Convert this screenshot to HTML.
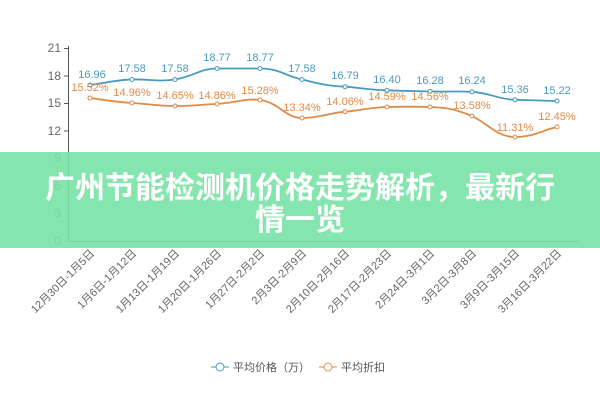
<!DOCTYPE html><html><head><meta charset="utf-8"><style>body{margin:0;background:#fff;width:600px;height:400px;overflow:hidden;position:relative;font-family:"Liberation Sans","Noto Sans CJK SC",sans-serif}
.ban{position:absolute;left:0;top:152px;width:600px;height:96px;background:rgba(120,226,165,0.9);color:#fff;font-weight:bold;font-size:30px;text-align:center;line-height:32px;padding-top:17px;box-sizing:border-box;font-family:"Noto Sans CJK SC",sans-serif}</style></head><body>
<svg width="600" height="400" style="position:absolute;left:0;top:0" font-family="Liberation Sans,Noto Sans CJK SC,sans-serif">
<g stroke="#555" stroke-width="1"><line x1="68.5" y1="46" x2="68.5" y2="241"/><line x1="68" y1="241.5" x2="578" y2="241.5"/></g>
<g font-size="12" fill="#666" text-anchor="end">
<text x="61" y="52">21</text><text x="61" y="80">18</text><text x="61" y="107">15</text><text x="61" y="135">12</text><text x="61" y="162">9</text><text x="61" y="190">6</text><text x="61" y="217">3</text><text x="61" y="245">0</text></g>
<g stroke="#555"><line x1="64" y1="48.5" x2="68" y2="48.5"/><line x1="64" y1="76" x2="68" y2="76"/><line x1="64" y1="103.5" x2="68" y2="103.5"/><line x1="64" y1="131" x2="68" y2="131"/></g>
<path d="M90,85 C105,83 115,80 132,79.5 C150,79 158,82 175,79.5 C195,76 200,68.5 217,68.5 L260,68.5 C280,68.5 285,76 302,79.5 C320,84 328,86 345,86.7 C362,88 370,90 387,90.3 C405,91 412,91 430,91.4 C450,92 455,91 472,91.8 C490,93 497,99 515,99.8 L557,101" fill="none" stroke="#4a9ac0" stroke-width="1.8"/>
<path d="M90,98 C105,100 115,102 132,103 C150,104 158,106 175,106 C195,106 200,104.5 217,104 C235,103 245,98 260,100 C280,103 285,118 302,118 C320,118 328,113 345,111.8 C362,110 370,107.5 387,107 C405,106.5 412,106.5 430,107 C450,107.6 457,110 472,116 C490,125 497,137 515,137 C535,137 545,129 557,127" fill="none" stroke="#e08a45" stroke-width="1.8"/>
<g fill="#fff" stroke="#4a9ac0" stroke-width="1"><circle cx="90" cy="85" r="2"/><circle cx="132" cy="79.5" r="2"/><circle cx="175" cy="79.5" r="2"/><circle cx="217" cy="68.5" r="2"/><circle cx="260" cy="68.5" r="2"/><circle cx="302" cy="79.5" r="2"/><circle cx="345" cy="86.7" r="2"/><circle cx="387" cy="90.3" r="2"/><circle cx="430" cy="91.4" r="2"/><circle cx="472" cy="91.8" r="2"/><circle cx="515" cy="99.8" r="2"/><circle cx="557" cy="101" r="2"/></g>
<g fill="#fff" stroke="#e08a45" stroke-width="1"><circle cx="90" cy="98" r="2"/><circle cx="132" cy="103" r="2"/><circle cx="175" cy="106" r="2"/><circle cx="217" cy="104" r="2"/><circle cx="260" cy="100" r="2"/><circle cx="302" cy="118" r="2"/><circle cx="345" cy="111.8" r="2"/><circle cx="387" cy="107" r="2"/><circle cx="430" cy="107" r="2"/><circle cx="472" cy="116" r="2"/><circle cx="515" cy="137" r="2"/><circle cx="557" cy="127" r="2"/></g>
<g font-size="11" fill="#4a9ac0" text-anchor="middle"><text x="92" y="78">16.96</text><text x="132" y="72">17.58</text><text x="175" y="72">17.58</text><text x="217" y="61">18.77</text><text x="260" y="61">18.77</text><text x="302" y="72">17.58</text><text x="345" y="79">16.79</text><text x="387" y="83">16.40</text><text x="430" y="84">16.28</text><text x="472" y="84">16.24</text><text x="515" y="93">15.36</text><text x="557" y="94">15.22</text></g>
<g font-size="11" fill="#e08a45" text-anchor="middle"><text x="90" y="91">15.52%</text><text x="132" y="96">14.96%</text><text x="175" y="99">14.65%</text><text x="217" y="99">14.86%</text><text x="260" y="94">15.28%</text><text x="302" y="111">13.34%</text><text x="345" y="105">14.06%</text><text x="387" y="100">14.59%</text><text x="430" y="100">14.56%</text><text x="472" y="109">13.58%</text><text x="515" y="131">11.31%</text><text x="557" y="120">12.45%</text></g>
<g font-size="11" fill="#666" text-anchor="end">
<text transform="translate(95,254) rotate(-45)">12月30日-1月5日</text><text transform="translate(137,254) rotate(-45)">1月6日-1月12日</text><text transform="translate(180,254) rotate(-45)">1月13日-1月19日</text><text transform="translate(222,254) rotate(-45)">1月20日-1月26日</text><text transform="translate(265,254) rotate(-45)">1月27日-2月2日</text><text transform="translate(307,254) rotate(-45)">2月3日-2月9日</text><text transform="translate(350,254) rotate(-45)">2月10日-2月16日</text><text transform="translate(392,254) rotate(-45)">2月17日-2月23日</text><text transform="translate(435,254) rotate(-45)">2月24日-3月1日</text><text transform="translate(477,254) rotate(-45)">3月2日-3月8日</text><text transform="translate(520,254) rotate(-45)">3月9日-3月15日</text><text transform="translate(562,254) rotate(-45)">3月16日-3月22日</text></g>
<line x1="211" y1="367" x2="229" y2="367" stroke="#4a9ac0"/><circle cx="220" cy="367" r="4" fill="#fff" stroke="#4a9ac0"/><text x="233" y="371" font-size="11" fill="#555">平均价格（万）</text>
<line x1="319" y1="367" x2="337" y2="367" stroke="#e08a45"/><circle cx="328" cy="367" r="4" fill="#fff" stroke="#e08a45"/><text x="341" y="371" font-size="11" fill="#555">平均折扣</text>
</svg>
<div class="ban">广州节能检测机价格走势解析，最新行<br>情一览</div>
</body></html>
